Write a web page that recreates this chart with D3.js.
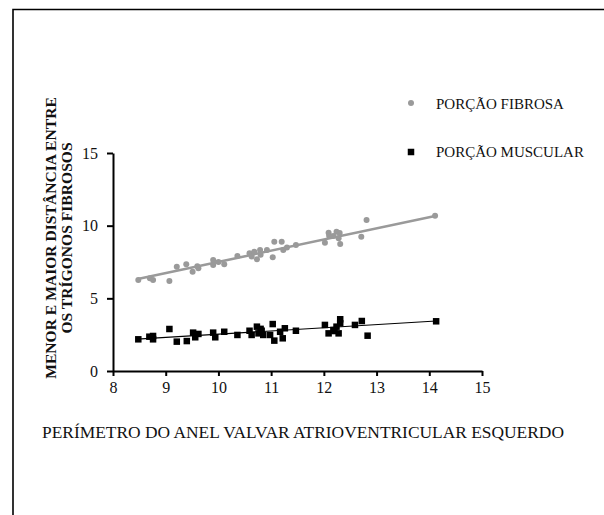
<!DOCTYPE html>
<html lang="pt">
<head>
  <meta charset="UTF-8">
  <title>Perímetro do anel valvar x distância entre os trígonos fibrosos</title>
  <style>
    body { margin: 0; background: #fff; }
    svg { display: block; }
    .axis path, .axis line { stroke: #000; stroke-width: 2px; }
  </style>
</head>
<body>
<div id="chart"></div>
<script src="https://d3js.org/d3.v7.min.js"></script>
<script>
  // perímetro (x) e distância (y)
  const fibrosaX = [8.48, 8.70, 8.76, 9.07, 9.21, 9.39, 9.51, 9.62, 9.60, 9.90, 9.90, 10.00, 10.11,
    10.36, 10.59, 10.63, 10.73, 10.68, 10.79, 10.80, 10.92, 11.03, 11.06, 11.20, 11.23, 11.30, 11.47,
    12.02, 12.09, 12.10, 12.24, 12.18, 12.28, 12.31, 12.30, 12.71, 12.81, 14.11];
  const fibrosaY = [6.26, 6.38, 6.26, 6.19, 7.18, 7.34, 6.83, 7.07, 7.20, 7.64, 7.30, 7.50, 7.34,
    7.91, 8.10, 7.87, 7.69, 8.21, 8.33, 8.00, 8.33, 7.83, 8.90, 8.90, 8.33, 8.50, 8.67,
    8.83, 9.52, 9.30, 9.59, 9.29, 9.13, 8.74, 9.50, 9.24, 10.39, 10.69];

  const muscularX = [8.48, 8.69, 8.76, 8.76, 9.07, 9.21, 9.40, 9.52, 9.56, 9.62, 9.90, 9.94, 10.11,
    10.36, 10.59, 10.63, 10.73, 10.76, 10.80, 10.82, 10.85, 11.03, 10.98, 11.06, 11.17, 11.22, 11.26,
    11.47, 12.02, 12.09, 12.18, 12.20, 12.24, 12.28, 12.31, 12.31, 12.59, 12.72, 12.83, 14.13];
  const muscularY = [2.18, 2.36, 2.41, 2.18, 2.89, 2.02, 2.06, 2.64, 2.32, 2.55, 2.64, 2.32, 2.70,
    2.48, 2.77, 2.48, 3.05, 2.59, 2.90, 2.77, 2.48, 3.23, 2.48, 2.09, 2.70, 2.25, 2.94,
    2.77, 3.17, 2.59, 2.82, 2.75, 3.05, 2.59, 3.56, 3.28, 3.17, 3.44, 2.43, 3.42];

  // retas de regressão (extremos)
  const fitFibrosaX = [8.47, 14.11];
  const fitFibrosaY = [6.33, 10.67];
  const fitMuscularX = [8.46, 14.13];
  const fitMuscularY = [2.20, 3.44];

  const xTicks = [8, 9, 10, 11, 12, 13, 14, 15];
  const yTicks = [0, 5, 10, 15];
  const seriesNames = ["PORÇÃO FIBROSA", "PORÇÃO MUSCULAR"];

  const width = 604, height = 515;
  const grey = "#9a9a9a";
  const serif = "'Liberation Serif', 'DejaVu Serif', serif";

  const svg = d3.select("#chart").append("svg")
    .attr("width", width)
    .attr("height", height);

  // moldura (só topo e lado esquerdo)
  svg.append("path")
    .attr("d", `M13,${height} V9.5 H${width}`)
    .attr("fill", "none")
    .attr("stroke", "#000")
    .attr("stroke-width", 1.6);

  const x = d3.scaleLinear().domain([8, 15]).range([113, 482]);
  const y = d3.scaleLinear().domain([0, 15]).range([371, 153]);

  const gx = svg.append("g")
    .attr("class", "axis")
    .attr("transform", `translate(0,${y(0)})`)
    .call(d3.axisBottom(x).tickValues(xTicks).tickFormat(d3.format("d"))
      .tickSize(5).tickSizeOuter(0).tickPadding(6));

  const gy = svg.append("g")
    .attr("class", "axis")
    .attr("transform", `translate(${x(8)},0)`)
    .call(d3.axisLeft(y).tickValues(yTicks).tickFormat(d3.format("d"))
      .tickSize(6).tickSizeOuter(0).tickPadding(9));

  [gx, gy].forEach(g => g.attr("font-family", serif).attr("font-size", 16)
    .selectAll(".tick text").attr("fill", "#111"));

  // regressões
  const line = d3.line().x(d => x(d[0])).y(d => y(d[1]));
  svg.append("path")
    .attr("d", line(d3.zip(fitFibrosaX, fitFibrosaY)))
    .attr("stroke", grey).attr("stroke-width", 2.5).attr("fill", "none");
  svg.append("path")
    .attr("d", line(d3.zip(fitMuscularX, fitMuscularY)))
    .attr("stroke", "#000").attr("stroke-width", 1.2).attr("fill", "none");

  // pontos
  svg.append("g").selectAll("circle")
    .data(d3.zip(fibrosaX, fibrosaY))
    .join("circle")
    .attr("cx", d => x(d[0]))
    .attr("cy", d => y(d[1]))
    .attr("r", 3)
    .attr("fill", grey);

  const sq = 6.5;
  svg.append("g").selectAll("rect")
    .data(d3.zip(muscularX, muscularY))
    .join("rect")
    .attr("x", d => x(d[0]) - sq / 2)
    .attr("y", d => y(d[1]) - sq / 2)
    .attr("width", sq)
    .attr("height", sq)
    .attr("fill", "#000");

  // legenda
  svg.append("circle").attr("cx", 411).attr("cy", 103).attr("r", 3).attr("fill", grey);
  svg.append("rect").attr("x", 411 - sq / 2).attr("y", 152 - sq / 2)
    .attr("width", sq).attr("height", sq).attr("fill", "#000");
  svg.selectAll(".legend")
    .data(seriesNames)
    .join("text")
    .attr("class", "legend")
    .attr("x", 436)
    .attr("y", (d, i) => 109 + i * 48)
    .style("font-family", serif)
    .style("font-size", "15px")
    .style("fill", "#111")
    .text(d => d);

  // títulos dos eixos
  svg.append("text")
    .attr("x", 303)
    .attr("y", 438)
    .attr("text-anchor", "middle")
    .style("font-family", serif)
    .style("font-size", "17.4px")
    .style("fill", "#111")
    .text("PERÍMETRO DO ANEL VALVAR ATRIOVENTRICULAR ESQUERDO");

  const yTitle = svg.append("text")
    .attr("transform", "translate(56,238) rotate(-90)")
    .attr("text-anchor", "middle")
    .style("font-family", serif)
    .style("font-size", "15.6px")
    .style("font-weight", "bold")
    .style("fill", "#111");
  yTitle.append("tspan").attr("x", 0).attr("y", 0).text("MENOR E MAIOR DISTÂNCIA ENTRE");
  yTitle.append("tspan").attr("x", 0).attr("y", 16).text("OS TRÍGONOS FIBROSOS");
</script>
</body>
</html>
